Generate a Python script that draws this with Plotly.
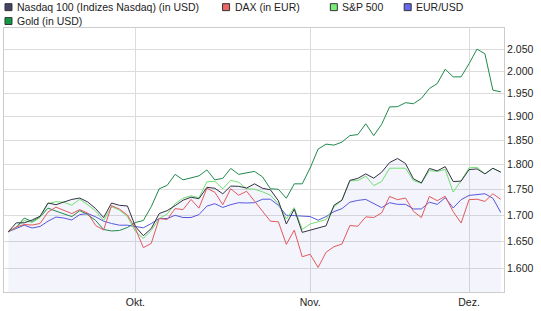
import plotly.graph_objects as go

# ---- data ----
month_labels = ["Okt.", "Nov.", "Dez."]
month_pos = [16, 38, 58]          # trading-day index of first day of month

y_tick_vals = [1600, 1650, 1700, 1750, 1800, 1850, 1900, 1950, 2000, 2050]
y_tick_text = ["1.600", "1.650", "1.700", "1.750", "1.800",
               "1.850", "1.900", "1.950", "2.000", "2.050"]

nasdaq = [1668.3, 1685.2, 1685.2, 1690.6, 1697.8, 1723.3, 1720.1, 1725.3, 1730.3, 1733.0,
          1725.3, 1712.4, 1695.3, 1723.3, 1718.8, 1717.6, 1678.3, 1660.9, 1674.5, 1702.9,
          1708.6, 1718.2, 1728.8, 1734.6, 1731.7, 1754.1, 1752.2, 1741.4, 1756.5, 1756.1,
          1752.6, 1761.0, 1752.2, 1749.2, 1727.8, 1683.0, 1711.4, 1667.2, 1671.7, 1676.4,
          1679.5, 1719.1, 1728.8, 1767.9, 1771.9, 1780.9, 1772.3, 1784.3, 1803.9, 1812.0,
          1801.9, 1770.9, 1763.0, 1791.9, 1786.9, 1795.5, 1765.6, 1766.4, 1789.5, 1790.9,
          1780.9, 1792.3, 1784.3]

dax = [1668.3, 1677.3, 1682.0, 1681.0, 1683.9, 1705.7, 1715.3, 1709.5, 1702.9, 1710.5,
       1703.8, 1680.1, 1671.7, 1718.2, 1711.4, 1700.0, 1674.5, 1638.7, 1646.6, 1693.4,
       1691.5, 1712.4, 1710.5, 1730.3, 1713.4, 1752.2, 1744.3, 1720.1, 1751.2, 1738.5,
       1746.3, 1726.8, 1707.6, 1688.3, 1687.1, 1644.8, 1671.3, 1621.9, 1626.5, 1602.4,
       1630.1, 1640.5, 1645.3, 1680.1, 1678.8, 1696.6, 1695.3, 1704.2, 1736.1, 1729.8,
       1733.0, 1707.2, 1695.3, 1736.1, 1727.8, 1736.5, 1706.7, 1684.8, 1729.8, 1730.7,
       1726.5, 1741.4, 1730.3]

sp500 = [1668.3, 1676.4, 1689.6, 1685.8, 1695.3, 1722.0, 1725.9, 1724.9, 1719.1, 1730.7,
         1720.1, 1707.6, 1689.6, 1716.2, 1709.5, 1697.1, 1668.9, 1655.9, 1670.8, 1693.4,
         1702.0, 1722.0, 1732.6, 1737.5, 1733.6, 1765.0, 1766.0, 1751.2, 1767.9, 1764.0,
         1751.2, 1750.2, 1745.3, 1738.5, 1722.0, 1692.5, 1714.3, 1672.6, 1683.0, 1686.8,
         1691.5, 1715.7, 1728.8, 1767.0, 1767.5, 1776.3, 1757.5, 1765.6, 1792.3, 1792.3,
         1792.3, 1767.5, 1762.0, 1787.5, 1785.9, 1789.9, 1744.7, 1767.0, 1792.9, 1794.3,
         1780.9, 1791.9, 1784.3]

eurusd = [1668.3, 1674.5, 1680.7, 1675.4, 1678.3, 1688.3, 1696.2, 1694.3, 1690.6, 1700.9,
          1702.9, 1696.6, 1688.3, 1683.9, 1680.7, 1680.7, 1678.3, 1675.8, 1683.9, 1693.4,
          1693.4, 1699.6, 1695.3, 1695.3, 1700.9, 1717.2, 1722.0, 1714.7, 1720.1, 1723.9,
          1723.3, 1723.9, 1730.7, 1730.7, 1718.8, 1699.6, 1699.0, 1698.5, 1697.1, 1690.2,
          1697.1, 1706.7, 1712.4, 1724.9, 1728.4, 1730.3, 1722.0, 1714.3, 1723.9, 1720.7,
          1720.7, 1711.8, 1711.8, 1724.9, 1720.7, 1733.6, 1713.7, 1729.8, 1738.1, 1740.0,
          1741.4, 1732.6, 1704.8]

gold = [1668.3, 1676.4, 1694.3, 1687.7, 1696.2, 1713.4, 1707.6, 1702.9, 1697.1, 1708.6,
        1700.9, 1689.6, 1672.6, 1669.8, 1670.8, 1676.4, 1685.8, 1689.6, 1716.2, 1751.2,
        1758.0, 1779.9, 1768.9, 1772.9, 1776.9, 1788.9, 1768.9, 1771.9, 1791.9, 1779.9,
        1782.9, 1785.9, 1774.9, 1751.2, 1750.2, 1732.6, 1761.0, 1761.0, 1792.9, 1831.4,
        1841.7, 1839.6, 1845.9, 1859.5, 1861.6, 1884.4, 1859.5, 1883.4, 1920.7, 1921.1,
        1929.8, 1927.6, 1939.1, 1960.9, 1971.9, 2004.2, 1986.8, 1986.8, 2016.6, 2050.0,
        2039.3, 1957.2, 1953.7]

series_names = ["Nasdaq 100 (Indizes Nasdaq) (in USD)", "DAX (in EUR)", "S&P 500",
                "EUR/USD", "Gold (in USD)"]

x = list(range(len(nasdaq)))

# ---- styling ----
W, H = 541, 311
L, R, T, B = 3, 37, 28, 17
PW, PH = W - L - R, H - T - B
FONT = "Liberation Sans, Arial, sans-serif"

line_colors = {
    "nasdaq": "#333344",
    "dax": "#e25a5a",
    "sp": "#6fe06f",
    "eur": "#5858dc",
    "gold": "#1f8a4e",
}
swatch_colors = ["#444466", "#ee6666", "#77ee77", "#6666ee", "#119944"]

fig = go.Figure()

# shaded area under Nasdaq
fig.add_trace(go.Scatter(x=x, y=nasdaq, mode="lines", fill="tozeroy",
                         fillcolor="rgba(110,110,230,0.08)", line=dict(width=0),
                         hoverinfo="skip", showlegend=False))

for name, ys, key in [(series_names[4], gold, "gold"),
                      (series_names[3], eurusd, "eur"),
                      (series_names[2], sp500, "sp"),
                      (series_names[1], dax, "dax"),
                      (series_names[0], nasdaq, "nasdaq")]:
    fig.add_trace(go.Scatter(x=x, y=ys, mode="lines", name=name,
                             line=dict(color=line_colors[key], width=1),
                             showlegend=False))

# ---- custom legend (text + swatches) ----
def px2paper_x(px):
    return (px - L) / PW

def px2paper_y(py):
    return (H - B - py) / PH

legend_items = [  # (swatch left px, row center px)
    (4, 7), (222, 7), (330, 7), (404, 7), (4, 21),
]
shapes = []
annotations = []
for (sx, cy), name, col in zip(legend_items, series_names, swatch_colors):
    shapes.append(dict(type="rect", xref="paper", yref="paper",
                       x0=px2paper_x(sx), x1=px2paper_x(sx + 7),
                       y0=px2paper_y(cy + 3.5), y1=px2paper_y(cy - 3.5),
                       fillcolor=col, line=dict(color="#333333", width=1)))
    annotations.append(dict(text=name, xref="paper", yref="paper",
                            x=px2paper_x(sx + 11), y=px2paper_y(cy),
                            xanchor="left", yanchor="middle", showarrow=False,
                            borderpad=0, font=dict(family=FONT, size=10.5, color="#222222")))

fig.update_layout(
    width=W, height=H,
    margin=dict(l=L, r=R, t=T, b=B, pad=0),
    paper_bgcolor="white", plot_bgcolor="white",
    showlegend=False,
    shapes=shapes, annotations=annotations,
    font=dict(family=FONT, size=10.5, color="#222222"),
    xaxis=dict(range=[-0.54, 62.40], tickmode="array", tickvals=month_pos,
               ticktext=month_labels, showgrid=True, gridcolor="#dcdcdc", gridwidth=1,
               showline=True, linecolor="#cccccc", linewidth=1, mirror=True,
               zeroline=False, ticks="", fixedrange=True),
    yaxis=dict(type="log", range=[3.19276, 3.32211], side="right", tickmode="array",
               tickvals=y_tick_vals, ticktext=y_tick_text, showgrid=True,
               gridcolor="#dcdcdc", gridwidth=1, showline=True, linecolor="#cccccc",
               linewidth=1, mirror=True, zeroline=False, ticks="", fixedrange=True),
)

fig.write_html("out.html", config={"displayModeBar": False})
